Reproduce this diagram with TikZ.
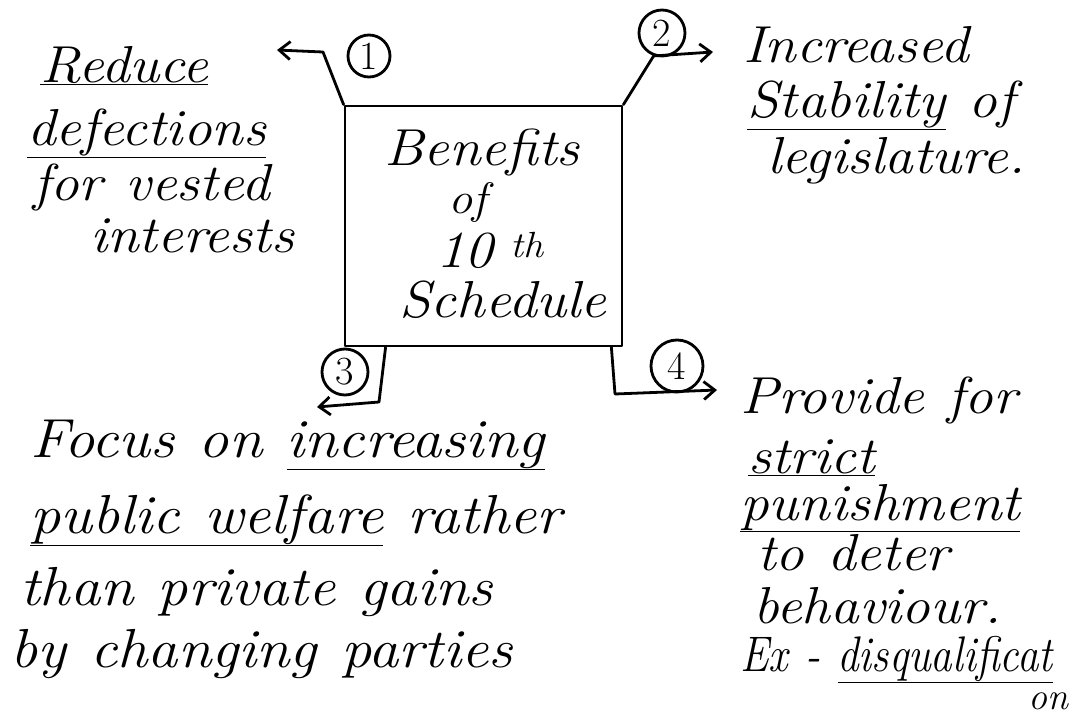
\documentclass[tikz,border=0pt]{standalone}
\usepackage{graphicx}
\usetikzlibrary{arrows.meta,calc}
\newcommand\hwsize[1]{\fontsize{#1}{#1}\selectfont\itshape\spaceskip=0.4em\relax}
\newcommand\hw[1]{\scalebox{1.1}[1]{#1}}
\newcommand\hwn[1]{\scalebox{0.86}[1]{#1}}
\tikzset{
  ink/.style={line width=2.8pt, line cap=round, line join=round, draw=black},
  hand/.style={font=\hwsize{52}, inner sep=0pt, anchor=base west, text=black},
  bighand/.style={hand, font=\hwsize{55}},
  boxtxt/.style={font=\hwsize{52}, inner sep=0pt, anchor=base, text=black},
  numc/.style={draw, circle, ink, inner sep=0pt, font=\fontsize{40}{40}\selectfont},
  mainbox/.style={draw, ink, minimum width=277pt, minimum height=240pt, inner sep=0pt},
  conn/.style={ink, -{Straight Barb[length=11pt,width=18pt]}},
}
\begin{document}
\begin{tikzpicture}[x=1pt,y=-1pt]
\useasboundingbox[fill=white] (0,0) rectangle (1080,715);

% central box
\node[mainbox] (B) at (483.5,226) {};
\node[boxtxt] (b1) at (482,165) {\hw{Benefits}};
\node[boxtxt, font=\hwsize{44}] (b2) at (468,213) {\hw{of}};
\node[boxtxt] (b3) at (490,267) {\hw{10\hspace{0.3em}\textsuperscript{th}}};
\node[boxtxt] (b4) at (503,317) {\hw{Schedule}};

% numbered circles
\node[numc, minimum size=42pt] (c1) at (369,56) {1};
\node[numc, minimum size=46pt] (c2) at (662,33) {2};
\node[numc, minimum size=46pt] (c3) at (345,372) {3};
\node[numc, minimum size=52pt] (c4) at (677,366) {4};

% connectors
\coordinate (k1) at (323,52);
\coordinate (e1) at (277,50);
\draw[conn] (B.north west) -- (k1) -- (e1);

\coordinate (e2) at (713,52);
\draw[conn] (B.north east) -- (c2.250) -- (e2);

\coordinate (s3) at ($(B.south west)!0.15!(B.south east)$);
\coordinate (k3) at (379,402);
\coordinate (e3) at (317,407);
\draw[conn] (s3) -- (k3) -- (e3);

\coordinate (s4) at ($(B.south east)+(-12,0)$);
\coordinate (k4) at (615,394);
\coordinate (e4) at (717,390);
\draw[conn] (s4) -- (k4) -- (e4);

% block 1
\node[hand] (n1a) at (40,82)  {\hw{\underline{Reduce}}};
\node[hand] (n1b) at (27,145) {\hw{\underline{defections}}};
\node[hand] (n1c) at (33,200) {\hw{for vested}};
\node[hand] (n1d) at (90,252) {\hw{interests}};

% block 2
\node[hand] (n2a) at (743,62)  {\hw{Increased}};
\node[hand] (n2b) at (747,117) {\hw{\underline{Stability} of}};
\node[hand] (n2c) at (767,173) {\hw{legislature.}};

% block 3
\node[bighand] (n3a) at (30,457) {\hw{Focus on \underline{increasing}}};
\node[bighand] (n3b) at (30,533) {\hw{\underline{public welfare} rather}};
\node[bighand] (n3c) at (20,605) {\hw{than private gains}};
\node[bighand] (n3d) at (10,667) {\hw{by changing parties}};

% block 4
\node[hand] (n4a) at (740,413) {\hw{Provide for}};
\node[hand] (n4b) at (748,473) {\hw{\underline{strict}}};
\node[hand] (n4c) at (740,520) {\hw{\underline{punishment}}};
\node[hand] (n4d) at (757,570) {\hw{to deter}};
\node[hand] (n4e) at (753,623) {\hw{behaviour.}};
\node[hand, font=\hwsize{50}] (n4f) at (740,671) {\hwn{Ex - \underline{disqualificat}}};
\node[hand, font=\hwsize{38}] (n4g) at (1028,709) {on};
\end{tikzpicture}
\end{document}
